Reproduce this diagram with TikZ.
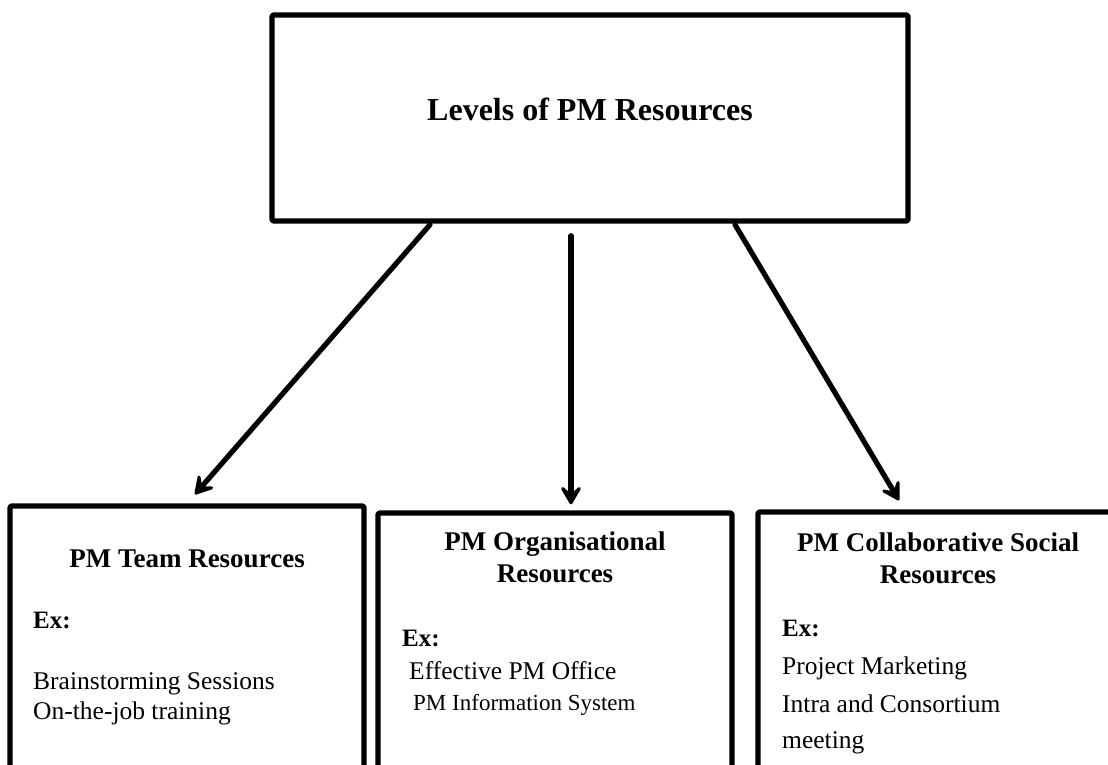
\documentclass[tikz,border=0pt]{standalone}
\usepackage{fontspec}
\setmainfont{Liberation Serif}
\usetikzlibrary{arrows.meta}

\tikzset{
  box/.style={draw=black, line width=5.4pt, rounded corners=1.5pt, line join=round, fill=white, inner sep=0pt},
  arr/.style={line width=5.2pt, line cap=round, -{Stealth[length=24pt, width=28pt, inset=12pt, round]}},
  head/.style={font=\fontsize{27}{30}\selectfont\bfseries, anchor=base, inner sep=0pt},
  exlabel/.style={font=\fontsize{25}{30}\selectfont\bfseries, anchor=base west, inner sep=0pt},
  item/.style={font=\fontsize{25.5}{30}\selectfont, anchor=base west, inner sep=0pt},
  smallitem/.style={font=\fontsize{23}{28}\selectfont, anchor=base west, inner sep=0pt}
}

\begin{document}
\begin{tikzpicture}[x=1pt, y=-1pt]
  \useasboundingbox (0,0) rectangle (1108,765);
  \clip (0,0) rectangle (1108,765);
  \fill[white] (0,0) rectangle (1108,765);

  % top level box
  \node[box, minimum width=636pt, minimum height=206pt] (top) at (590,118) {};
  \node[font=\fontsize{32}{36}\selectfont\bfseries, anchor=base, inner sep=0pt] (title) at (590,121) {Levels of PM Resources};

  % three resource boxes (running past the lower edge)
  \node[box, minimum width=354pt, minimum height=300pt] (team) at (187,656) {};
  \node[box, minimum width=354pt, minimum height=300pt] (org) at (555,663) {};
  \node[box, minimum width=360pt, minimum height=300pt] (soc) at (938,662) {};

  % team resources
  \node[head] (teamh) at (187,567) {PM Team Resources};
  \node[exlabel] (teamex) at (33,628) {Ex:};
  \node[item] (team1) at (33,689) {Brainstorming Sessions};
  \node[item] (team2) at (33,719) {On-the-job training};

  % organisational resources
  \node[head] (orgh1) at (555,550) {PM Organisational};
  \node[head] (orgh2) at (555,582) {Resources};
  \node[exlabel] (orgex) at (402,646) {Ex:};
  \node[item] (org1) at (409,679) {Effective PM Office};
  \node[smallitem] (org2) at (413,710) {PM Information System};

  % collaborative social resources
  \node[head] (soch1) at (938,551) {PM Collaborative Social};
  \node[head] (soch2) at (938,583) {Resources};
  \node[exlabel] (socex) at (782,636) {Ex:};
  \node[item] (soc1) at (782,674) {Project Marketing};
  \node[item] (soc2) at (782,712) {Intra and Consortium};
  \node[item] (soc3) at (782,748) {meeting};

  % connectors
  \draw[arr] ([xshift=-160pt, yshift=-1pt]top.south) -- ([xshift=8pt, yshift=9pt]team.north);
  \draw[arr] ([xshift=-19pt, yshift=-12pt]top.south) -- ([xshift=16pt, yshift=6pt]org.north);
  \draw[arr] ([xshift=145pt, yshift=-1pt]top.south) -- ([xshift=-39pt, yshift=9pt]soc.north);
\end{tikzpicture}
\end{document}
